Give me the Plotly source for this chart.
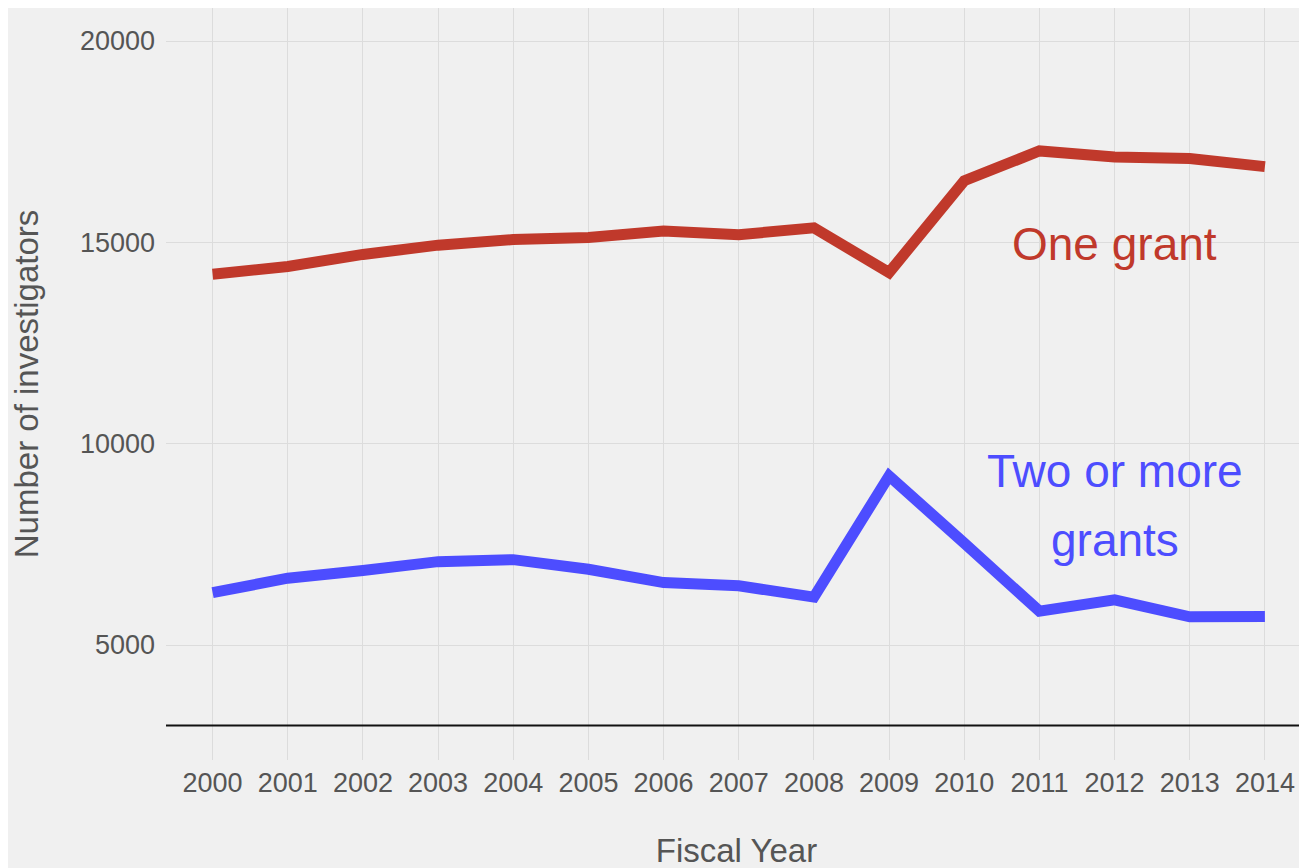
import plotly.graph_objects as go

years = list(range(2000, 2015))
one_grant = [14210, 14400, 14700, 14930, 15070, 15120, 15280, 15190, 15360,
             14250, 16530, 17270, 17120, 17080, 16880]
two_or_more = [6300, 6660, 6850, 7070, 7120, 6880, 6550, 6470, 6190,
               9200, 7530, 5840, 6120, 5700, 5710]
baseline = 3000
y_ticks = [5000, 10000, 15000, 20000]

RED = "#C0392B"
BLUE = "#4D4DFF"
BG = "#F0F0F0"
GRID = "#DCDCDC"
TXT = "#555555"
FONT = "Liberation Sans, Arial, sans-serif"

fig = go.Figure()
fig.add_trace(go.Scatter(x=years, y=one_grant, mode="lines",
                         line=dict(color=RED, width=11), name="One grant",
                         showlegend=False))
fig.add_trace(go.Scatter(x=years, y=two_or_more, mode="lines",
                         line=dict(color=BLUE, width=11), name="Two or more grants",
                         showlegend=False))

fig.add_shape(type="line", xref="paper", x0=0, x1=1, yref="y",
              y0=baseline, y1=baseline, line=dict(color="#111111", width=2))

fig.add_annotation(x=2012, y=14970, text="One grant", showarrow=False,
                   font=dict(family=FONT, size=46, color=RED),
                   xanchor="center", yanchor="middle")
fig.add_annotation(x=2012, y=9314, text="Two or more", showarrow=False,
                   font=dict(family=FONT, size=46, color=BLUE),
                   xanchor="center", yanchor="middle")
fig.add_annotation(x=2012, y=7615, text="grants", showarrow=False,
                   font=dict(family=FONT, size=46, color=BLUE),
                   xanchor="center", yanchor="middle")

fig.update_layout(
    width=1307, height=868,
    margin=dict(l=158, r=8, t=0, b=116, pad=0),
    paper_bgcolor=BG, plot_bgcolor=BG,
    font=dict(family=FONT, color=TXT),
    xaxis=dict(range=[1999.38, 2014.56], tickmode="array", tickvals=years,
               ticktext=[str(y) for y in years],
               showgrid=True, gridcolor=GRID, gridwidth=1, zeroline=False,
               showline=False, ticks="", tickfont=dict(size=27, color=TXT),
               ticklabelstandoff=4,
               title=dict(text="Fiscal Year", font=dict(size=33, color=TXT),
                          standoff=41)),
    yaxis=dict(range=[2144, 20820], tickmode="array", tickvals=y_ticks,
               ticktext=[str(v) for v in y_ticks],
               showgrid=True, gridcolor=GRID, gridwidth=1, zeroline=False,
               showline=False, ticks="", tickfont=dict(size=27, color=TXT),
               ticklabelstandoff=10,
               title=dict(text="Number of investigators",
                          font=dict(size=33, color=TXT), standoff=36)),
)

fig.write_html("out.html")
